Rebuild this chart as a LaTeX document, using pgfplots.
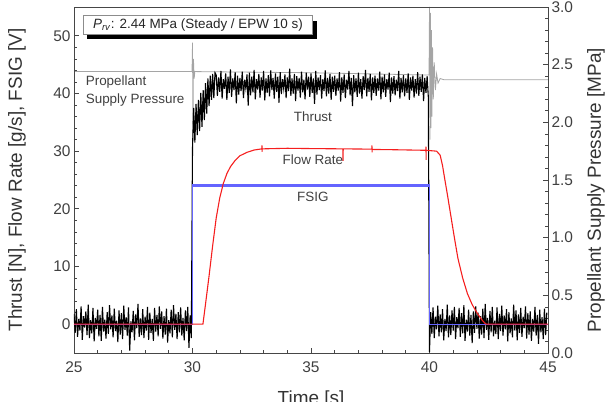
\documentclass[border=0pt]{standalone}
\usepackage{fontspec}
\setmainfont{Liberation Sans}
\usepackage{pgfplots}
\pgfplotsset{compat=1.18}
\usetikzlibrary{shadows}
\definecolor{fsig}{RGB}{100,100,255}
\definecolor{press}{RGB}{165,165,165}
\definecolor{axisgray}{RGB}{70,70,70}
\definecolor{flow}{RGB}{245,30,30}
\tikzset{note/.style={font=\fontsize{13.5}{18}\selectfont, text=black!75}}
\begin{document}
\begin{tikzpicture}
\pgfplotsset{
  base/.style={
    scale only axis, width=474bp, height=346bp,
    xmin=25, xmax=45,
    tick align=inside,
    axis line style={axisgray, line width=0.8pt},
    tick style={axisgray, line width=0.7pt},
    major tick length=5bp, minor tick length=3bp,
    /pgf/number format/assume math mode=true,
    ticklabel style={font=\fontsize{15.5}{18}\selectfont, text=black!75},
    label style={font=\fontsize{19}{22}\selectfont, text=black!80},
  },
}
% right axis: propellant supply pressure
\begin{axis}[base, name=pr,
  ymin=0, ymax=3,
  hide x axis,
  axis y line*=right,
  ytick={0,0.5,...,3}, minor y tick num=4,
  yticklabel style={/pgf/number format/.cd, fixed, fixed zerofill, precision=1},
  ylabel={Propellant Supply Pressure [MPa]},
  ylabel style={at={(axis description cs:1.1013,0.471)}, anchor=center},
]
\addplot[press, line width=0.8pt] coordinates {
(25,2.44)(29.98,2.44)(30.00,2.69)(30.02,1.85)(30.04,2.55)(30.07,2.38)(30.10,2.44)
(35,2.43)(39.98,2.41)(40.00,3.0)(40.02,1.85)(40.04,2.95)(40.06,1.95)(40.08,2.8)
(40.10,2.05)(40.13,2.65)(40.16,2.2)(40.20,2.52)(40.25,2.28)(40.30,2.42)(40.36,2.34)
(40.45,2.38)(40.6,2.37)(45,2.37)
};
\end{axis}
% left axis: thrust, flow rate and FSIG
\begin{axis}[base, name=main,
  ymin=-5, ymax=55,
  xtick={25,30,...,45}, minor x tick num=4,
  ytick={0,10,...,50}, minor y tick num=4,
  xtick pos=bottom, ytick pos=left,
  xticklabel style={yshift=-5bp},
  xlabel={Time [s]},
  ylabel={Thrust [N], Flow Rate [g/s], FSIG [V]},
  xlabel style={at={(axis description cs:0.5,-0.098)}, anchor=north},
  ylabel style={at={(axis description cs:-0.1203,0.5)}, anchor=center},
]
% thrust
\addplot[black, line width=1.1pt] coordinates {
(25.00,1.8)(25.05,-1.5)(25.10,2.6)(25.15,-2.2)(25.20,0.9)(25.25,-1.1)(25.30,3.1)(25.35,-2.7)(25.40,1.4)(25.45,-0.6)
(25.50,2.2)(25.55,-1.9)(25.60,3.4)(25.65,-2.4)(25.70,0.7)(25.75,-1.6)(25.80,2.8)(25.85,-3.0)(25.90,1.1)(25.95,-0.8)
(26.00,2.5)(26.05,-2.1)(26.10,1.6)(26.15,-2.9)(26.20,3.0)(26.25,-1.3)(26.30,0.8)(26.35,-2.5)(26.40,2.1)(26.45,-1.7)
(26.50,3.3)(26.55,-0.9)(26.60,1.5)(26.65,-2.3)(26.70,2.7)(26.75,-1.2)(26.80,0.6)(26.85,-3.1)(26.90,2.4)(26.95,-1.8)
(27.00,1.9)(27.05,-2.6)(27.10,3.2)(27.15,-1.0)(27.20,1.2)(27.25,-2.0)(27.30,2.9)(27.35,-4.6)(27.40,0.5)(27.45,-1.4)
(27.50,2.3)(27.55,-2.8)(27.60,1.7)(27.65,-0.7)(27.70,3.5)(27.75,-2.2)(27.80,1.0)(27.85,-1.9)(27.90,2.6)(27.95,-2.4)
(28.00,1.3)(28.05,-1.1)(28.10,3.0)(28.15,-2.7)(28.20,2.0)(28.25,-1.5)(28.30,0.9)(28.35,-2.9)(28.40,2.8)(28.45,-1.3)
(28.50,1.6)(28.55,-2.1)(28.60,3.1)(28.65,-0.8)(28.70,2.2)(28.75,-2.5)(28.80,1.4)(28.85,-1.8)(28.90,2.7)(28.95,-3.2)
(29.00,0.7)(29.05,-1.6)(29.10,2.5)(29.15,-2.3)(29.20,3.3)(29.25,-1.0)(29.30,1.8)(29.35,-2.6)(29.40,2.1)(29.45,-1.4)
(29.50,2.9)(29.55,-2.0)(29.60,1.1)(29.65,-2.8)(29.70,2.4)(29.75,-1.2)(29.80,3.0)(29.85,-4.1)(29.90,1.5)(29.95,-2.4)
(30.00,30.5)(30.05,37.5)(30.10,31.5)(30.15,38.2)(30.20,32.8)(30.25,38.9)(30.30,33.5)(30.35,40.1)(30.40,34.2)(30.45,40.6)
(30.50,35.4)(30.55,41.8)(30.60,36.5)(30.65,42.6)(30.70,37.8)(30.75,43.1)(30.80,38.9)(30.85,43.4)(30.90,39.2)(30.95,43.6)
(31.00,43.2)(31.05,39.6)(31.10,42.8)(31.15,40.3)(31.20,43.9)(31.25,39.1)(31.30,42.5)(31.35,40.8)(31.40,43.5)(31.45,38.9)
(31.50,42.9)(31.55,40.1)(31.60,44.2)(31.65,39.4)(31.70,42.6)(31.75,40.6)(31.80,43.7)(31.85,38.3)(31.90,43.1)(31.95,39.8)
(32.00,42.7)(32.05,40.4)(32.10,43.8)(32.15,39.2)(32.20,42.4)(32.25,40.9)(32.30,43.3)(32.35,37.9)(32.40,43.6)(32.45,39.7)
(32.50,42.9)(32.55,40.2)(32.60,44.1)(32.65,39.0)(32.70,42.5)(32.75,40.7)(32.80,43.4)(32.85,39.3)(32.90,42.8)(32.95,40.5)
(33.00,43.9)(33.05,38.8)(33.10,42.6)(33.15,40.1)(33.20,43.2)(33.25,39.5)(33.30,44.0)(33.35,40.6)(33.40,42.7)(33.45,39.1)
(33.50,43.5)(33.55,40.3)(33.60,42.9)(33.65,38.4)(33.70,43.7)(33.75,39.9)(33.80,42.5)(33.85,40.8)(33.90,43.3)(33.95,39.2)
(34.00,42.8)(34.05,40.4)(34.10,44.3)(34.15,39.6)(34.20,42.6)(34.25,40.0)(34.30,43.4)(34.35,38.7)(34.40,43.0)(34.45,40.5)
(34.50,42.7)(34.55,39.3)(34.60,43.8)(34.65,40.2)(34.70,42.4)(34.75,39.0)(34.80,43.6)(34.85,40.7)(34.90,42.9)(34.95,39.4)
(35.00,43.5)(35.05,40.1)(35.10,42.6)(35.15,38.2)(35.20,43.9)(35.25,39.8)(35.30,42.8)(35.35,40.6)(35.40,43.2)(35.45,39.1)
(35.50,42.5)(35.55,40.4)(35.60,44.0)(35.65,39.5)(35.70,42.7)(35.75,40.0)(35.80,43.4)(35.85,38.9)(35.90,42.9)(35.95,40.3)
(36.00,43.1)(36.05,39.6)(36.10,42.6)(36.15,40.5)(36.20,43.7)(36.25,38.6)(36.30,42.8)(36.35,40.1)(36.40,43.3)(36.45,39.2)
(36.50,42.4)(36.55,40.7)(36.60,43.9)(36.65,39.7)(36.70,42.7)(36.75,37.8)(36.80,43.2)(36.85,40.2)(36.90,42.6)(36.95,39.4)
(37.00,43.6)(37.05,40.0)(37.10,42.5)(37.15,39.1)(37.20,43.0)(37.25,40.6)(37.30,44.1)(37.35,39.5)(37.40,42.7)(37.45,40.3)
(37.50,43.4)(37.55,38.8)(37.60,42.8)(37.65,40.1)(37.70,43.1)(37.75,39.6)(37.80,42.6)(37.85,40.5)(37.90,43.8)(37.95,39.0)
(38.00,42.9)(38.05,40.2)(38.10,43.3)(38.15,39.4)(38.20,42.5)(38.25,40.7)(38.30,43.6)(38.35,38.5)(38.40,42.8)(38.45,40.0)
(38.50,43.0)(38.55,39.7)(38.60,42.4)(38.65,40.4)(38.70,43.9)(38.75,39.1)(38.80,42.7)(38.85,40.2)(38.90,43.2)(38.95,39.5)
(39.00,42.6)(39.05,40.1)(39.10,43.5)(39.15,38.9)(39.20,42.8)(39.25,40.5)(39.30,43.1)(39.35,39.3)(39.40,42.5)(39.45,40.0)
(39.50,43.7)(39.55,39.6)(39.60,42.9)(39.65,40.3)(39.70,43.3)(39.75,38.7)(39.80,42.7)(39.85,40.1)(39.90,43.0)(39.95,39.4)
(40.00,-4.8)(40.05,2.1)(40.10,-1.7)(40.15,2.9)(40.20,-2.4)(40.25,1.3)(40.30,-0.9)(40.35,3.2)(40.40,-2.1)(40.45,1.7)
(40.50,-1.4)(40.55,2.6)(40.60,-2.8)(40.65,0.9)(40.70,-1.2)(40.75,3.4)(40.80,-2.3)(40.85,1.5)(40.90,-1.9)(40.95,2.4)
(41.00,-1.1)(41.05,3.0)(41.10,-2.6)(41.15,1.2)(41.20,-0.7)(41.25,2.8)(41.30,-2.2)(41.35,1.9)(41.40,-1.6)(41.45,3.3)
(41.50,-2.9)(41.55,0.8)(41.60,-1.3)(41.65,2.5)(41.70,-2.0)(41.75,1.6)(41.80,-3.3)(41.85,2.2)(41.90,-1.5)(41.95,3.1)
(42.00,-0.8)(42.05,2.0)(42.10,-2.5)(42.15,1.4)(42.20,-1.8)(42.25,2.7)(42.30,-2.4)(42.35,3.5)(42.40,-1.0)(42.45,1.1)
(42.50,-2.7)(42.55,2.3)(42.60,-1.4)(42.65,3.0)(42.70,-2.1)(42.75,0.6)(42.80,-1.7)(42.85,2.9)(42.90,-2.6)(42.95,1.8)
(43.00,-1.2)(43.05,3.2)(43.10,-2.0)(43.15,1.5)(43.20,-0.9)(43.25,2.6)(43.30,-3.0)(43.35,2.1)(43.40,-1.6)(43.45,1.0)
(43.50,-2.3)(43.55,3.4)(43.60,-1.1)(43.65,2.4)(43.70,-2.8)(43.75,1.7)(43.80,-1.5)(43.85,2.8)(43.90,-2.2)(43.95,1.3)
(44.00,-0.7)(44.05,3.1)(44.10,-2.5)(44.15,1.9)(44.20,-1.8)(44.25,2.2)(44.30,-2.9)(44.35,0.9)(44.40,-1.3)(44.45,3.0)
(44.50,-2.0)(44.55,1.6)(44.60,-3.4)(44.65,2.5)(44.70,-1.4)(44.75,1.2)(44.80,-2.6)(44.85,2.7)(44.90,-1.9)(44.95,2.0)
};
% FSIG: zero level, on-pulse and off level drawn as separate segments
\addplot[fsig, line width=1.3pt] coordinates {(25,0)(30,0)(30,24.05)};
\addplot[fsig, line width=2.2pt] coordinates {(30,24.05)(40,24.05)};
\addplot[fsig, line width=1.3pt] coordinates {(40,24.05)(40,0)(45,0)};
% flow rate
\addplot[flow, line width=1.1pt] coordinates {
(25,0)(30.44,0)(30.55,3.5)(30.70,8.4)(30.85,13.6)(31.00,18.4)(31.15,21.9)(31.30,24.4)
(31.45,26.1)(31.60,27.3)(31.80,28.4)(32.00,29.2)(32.30,29.8)(32.60,30.2)(32.93,30.4)
(32.93,31.0)(32.94,29.9)(32.94,30.4)(34.0,30.5)(35.0,30.45)(36.35,30.4)(36.35,28.3)
(36.36,30.4)(37.57,30.35)(37.57,31.0)(37.58,29.8)(37.58,30.3)(38.5,30.25)(39.85,30.15)
(39.85,30.8)(39.86,28.5)(39.86,30.15)(40.30,30.0)(40.45,29.3)(40.55,27.5)(40.65,25.0)
(40.75,22.6)(40.90,18.8)(41.05,15.0)(41.20,11.4)(41.40,8.0)(41.60,5.3)(41.80,3.4)
(42.00,2.0)(42.20,0.8)(42.35,0.1)(42.40,0)(45,0)
};
\node[note, anchor=west, align=left] at (axis cs:25.35,40.4) {Propellant\\Supply Pressure};
\node[note] at (axis cs:35.08,36.0) {Thrust};
\node[note] at (axis cs:35.08,28.5) {Flow Rate};
\node[note] at (axis cs:35.08,22.1) {FSIG};
\node[note, text=black!85, draw=black!45, line width=0.6pt, fill=white, inner xsep=10bp, inner ysep=3bp,
      drop shadow={shadow xshift=4bp, shadow yshift=-5bp, opacity=1, fill=black}]
  at (axis cs:30.23,51.9) {\textit{P}\textsubscript{\textit{rv}}: 2.44 MPa (Steady / EPW 10 s)};
\end{axis}
\pgfresetboundingbox
\path[use as bounding box] ([xshift=-74bp,yshift=-49bp]main.south west) rectangle ([xshift=62bp,yshift=7bp]main.north east);
\end{tikzpicture}
\end{document}
